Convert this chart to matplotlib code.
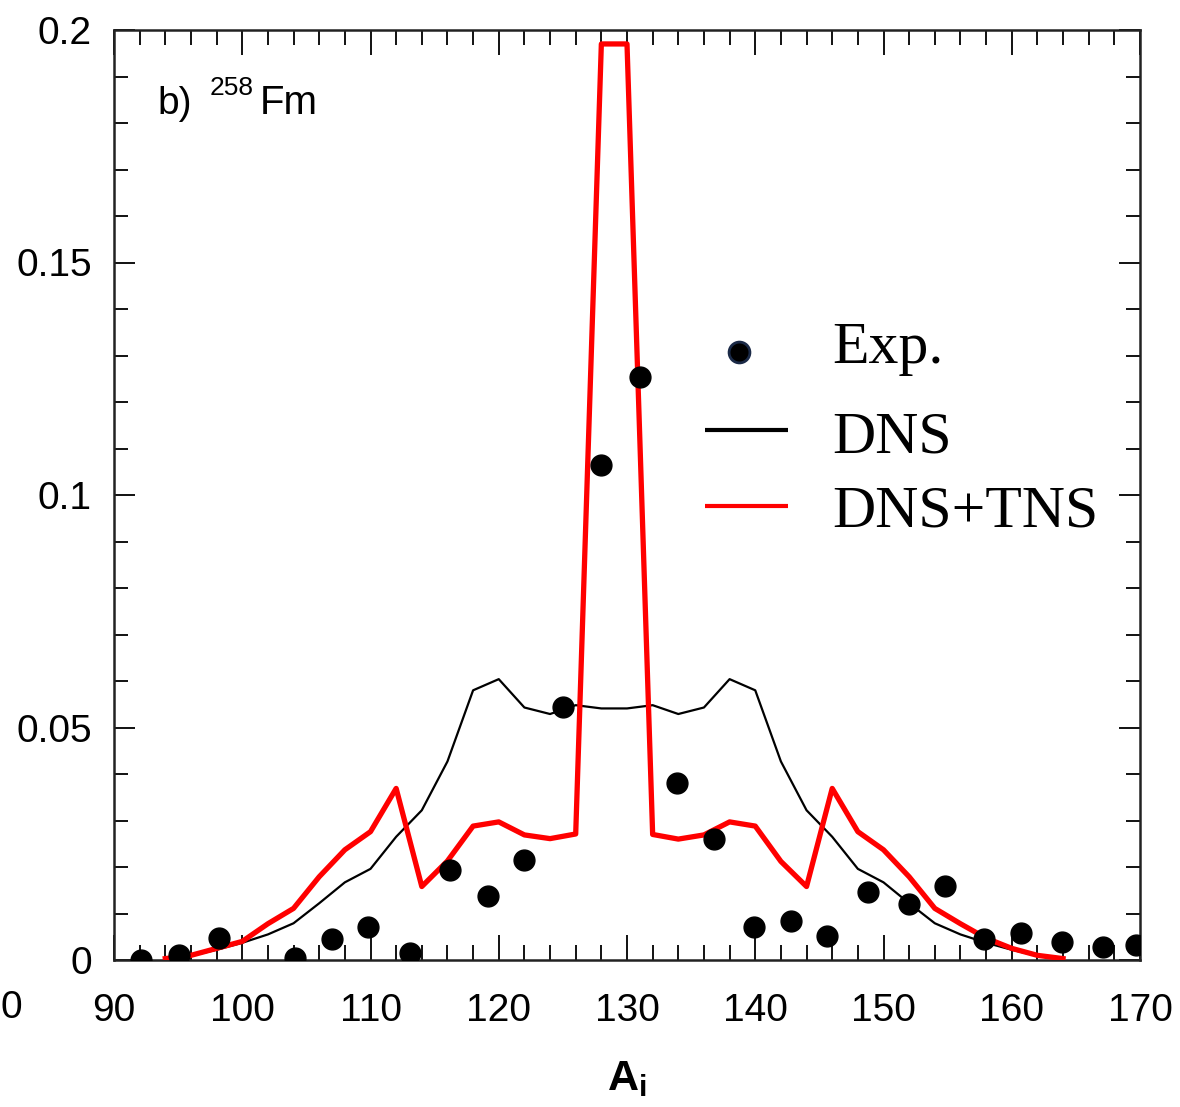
import matplotlib
matplotlib.use("Agg")
import matplotlib.pyplot as plt
from matplotlib.ticker import MultipleLocator, FixedLocator

# mass number grid of the calculations
a_calc = list(range(94, 166, 2))

dns = [0.0002, 0.0009, 0.0022, 0.0037, 0.0055, 0.0079, 0.0122, 0.0167,
       0.0196, 0.0265, 0.0322, 0.0427, 0.0580, 0.0604, 0.0543, 0.0529,
       0.0548, 0.0541, 0.0541, 0.0548, 0.0529, 0.0543, 0.0604, 0.0580,
       0.0427, 0.0322, 0.0265, 0.0196, 0.0167, 0.0122, 0.0079, 0.0055,
       0.0037, 0.0022, 0.0009, 0.0002]

dns_tns = [0.0003, 0.0010, 0.0025, 0.0040, 0.0078, 0.0111, 0.0179, 0.0237,
           0.0276, 0.0369, 0.0158, 0.0213, 0.0288, 0.0297, 0.0269, 0.0261,
           0.0271, 0.1970, 0.1970, 0.0270, 0.0260, 0.0269, 0.0297, 0.0288,
           0.0212, 0.0158, 0.0369, 0.0276, 0.0237, 0.0179, 0.0111, 0.0078,
           0.0047, 0.0025, 0.0010, 0.0003]

# experimental points
a_exp = [92.1, 95.1, 98.2, 104.1, 107.0, 109.8, 113.1, 116.2, 119.2, 122.0,
         125.0, 128.0, 131.0, 133.9, 136.8, 139.9, 142.8, 145.6, 148.8, 152.0,
         154.8, 157.8, 160.7, 163.9, 167.1, 169.7]
y_exp = [0.0, 0.001, 0.0048, 0.0004, 0.0045, 0.0070, 0.0015, 0.0194, 0.0138,
         0.0214, 0.0545, 0.1065, 0.1254, 0.0380, 0.0260, 0.0072, 0.0084,
         0.0052, 0.0147, 0.0120, 0.0160, 0.0045, 0.0057, 0.0039, 0.0027,
         0.0032]

y_ticks = [0, 0.05, 0.1, 0.15, 0.2]
y_tick_labels = ["0", "0.05", "0.1", "0.15", "0.2"]
x_ticks = [90, 100, 110, 120, 130, 140, 150, 160, 170]

sans = ["Liberation Sans Narrow", "Liberation Sans", "DejaVu Sans"]
plt.rcParams["mathtext.fontset"] = "custom"
plt.rcParams["mathtext.rm"] = "Liberation Sans"
plt.rcParams["mathtext.bf"] = "Liberation Sans:bold"
plt.rcParams["mathtext.it"] = "Liberation Sans:italic"

fig = plt.figure(figsize=(11.8, 11.07), dpi=100)
ax = fig.add_axes([114 / 1180, 1 - 960 / 1107, 1026 / 1180, 930 / 1107])

ax.plot(a_calc, dns, color="black", lw=1.6, zorder=2)
ax.plot(a_calc, dns_tns, color="#ff0000", lw=3.8, zorder=3)
ax.plot(a_exp, y_exp, "o", color="black", ms=15, zorder=4)

ax.set_xlim(90, 170)
ax.set_ylim(0, 0.2)
ax.xaxis.set_major_locator(FixedLocator(x_ticks))
ax.xaxis.set_minor_locator(MultipleLocator(2))
ax.yaxis.set_major_locator(FixedLocator(y_ticks))
ax.yaxis.set_minor_locator(MultipleLocator(0.01))
ax.set_yticklabels(y_tick_labels)

ax.tick_params(which="both", direction="in", top=True, right=True,
               width=1.4, color="#111111")
ax.tick_params(axis="x", which="major", length=18, pad=24)
ax.tick_params(axis="x", which="minor", length=11)
ax.tick_params(axis="y", which="major", length=15, pad=16)
ax.tick_params(axis="y", which="minor", length=10)
for sp in ax.spines.values():
    sp.set_linewidth(1.8)
    sp.set_color("#222222")

for lab in ax.get_xticklabels() + ax.get_yticklabels():
    lab.set_family(sans)
    lab.set_fontsize(28)

ax.set_xlabel(r"$\mathbf{A_i}$", fontsize=31, labelpad=20)

# what is left of the neighbouring panel's label at the far left
fig.text(1 / 1180, 1 - 1008 / 1107, "0", family=sans, fontsize=28,
         ha="left", va="center")

# panel label
ax.text(0.0419, 0.9097, "b)", transform=ax.transAxes, fontsize=28,
        family="Liberation Sans")
ax.text(0.0936, 0.930, "258", transform=ax.transAxes, fontsize=19,
        family=sans)
ax.text(0.142, 0.9097, "Fm", transform=ax.transAxes, fontsize=29,
        family="Liberation Sans")

# hand placed legend
serif = "Liberation Serif"
ax.plot([0.6094], [0.654], "o", color="black", mec="#1b2a47", mew=2,
        ms=15, transform=ax.transAxes, clip_on=False)
ax.plot([0.576, 0.657], [0.570, 0.570], color="black", lw=3,
        transform=ax.transAxes, solid_capstyle="butt")
ax.plot([0.576, 0.657], [0.4885, 0.4885], color="#ff0000", lw=3,
        transform=ax.transAxes, solid_capstyle="butt")
ax.text(0.700, 0.642, "Exp.", transform=ax.transAxes, fontsize=43,
        family=serif, va="baseline")
ax.text(0.700, 0.546, "DNS", transform=ax.transAxes, fontsize=43,
        family=serif, va="baseline")
ax.text(0.700, 0.4656, "DNS+TNS", transform=ax.transAxes, fontsize=43,
        family=serif, va="baseline")

fig.savefig("out.png", dpi=100)
